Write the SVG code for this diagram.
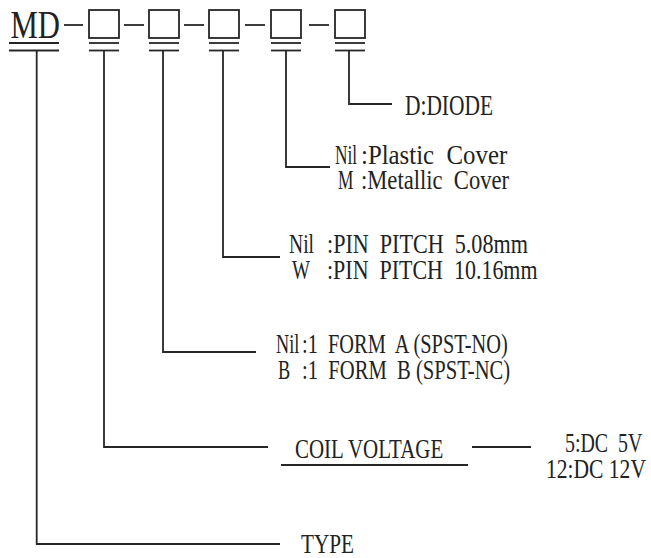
<svg xmlns="http://www.w3.org/2000/svg" width="651" height="558" viewBox="0 0 651 558">
<style>
.ln{stroke:#262626;stroke-width:1.8;fill:none}
</style>
<rect width="651" height="558" fill="#fff"/>
<g id="code">
  <g id="md">
    <text font-family="'Liberation Serif', serif" font-size="40" fill="#222" transform="translate(10.5,37.5) scale(0.768,1)">MD</text>
    <line class="ln" x1="9" y1="43" x2="59" y2="43"/>
    <line class="ln" x1="9" y1="50.5" x2="59" y2="50.5"/>
  </g>
  <g id="box1">
    <rect class="ln" x="89" y="10" width="30" height="28"/>
    <line class="ln" x1="89" y1="43" x2="119" y2="43"/>
    <line class="ln" x1="89" y1="50.5" x2="119" y2="50.5"/>
  </g>
  <g id="box2">
    <rect class="ln" x="149" y="10" width="30" height="28"/>
    <line class="ln" x1="149" y1="43" x2="179" y2="43"/>
    <line class="ln" x1="149" y1="50.5" x2="179" y2="50.5"/>
  </g>
  <g id="box3">
    <rect class="ln" x="209" y="10" width="30" height="28"/>
    <line class="ln" x1="209" y1="43" x2="239" y2="43"/>
    <line class="ln" x1="209" y1="50.5" x2="239" y2="50.5"/>
  </g>
  <g id="box4">
    <rect class="ln" x="271" y="10" width="30" height="28"/>
    <line class="ln" x1="271" y1="43" x2="301" y2="43"/>
    <line class="ln" x1="271" y1="50.5" x2="301" y2="50.5"/>
  </g>
  <g id="box5">
    <rect class="ln" x="335" y="10" width="30" height="28"/>
    <line class="ln" x1="335" y1="43" x2="365" y2="43"/>
    <line class="ln" x1="335" y1="50.5" x2="365" y2="50.5"/>
  </g>
  <g id="dashes">
    <line class="ln" x1="64" y1="25" x2="83" y2="25"/>
    <line class="ln" x1="124" y1="25" x2="144" y2="25"/>
    <line class="ln" x1="184" y1="25" x2="204" y2="25"/>
    <line class="ln" x1="245" y1="25" x2="265" y2="25"/>
    <line class="ln" x1="309" y1="25" x2="329" y2="25"/>
  </g>
</g>
<g id="connectors">
  <polyline class="ln" points="36.7,50.5 36.7,544 280,544"/>
  <polyline class="ln" points="104,50.5 104,447 268,447"/>
  <polyline class="ln" points="163,50.5 163,352 256,352"/>
  <polyline class="ln" points="223,50.5 223,257 280,257"/>
  <polyline class="ln" points="286,50.5 286,167 330,167"/>
  <polyline class="ln" points="349,50.5 349,104 392,104"/>
  <line class="ln" x1="472" y1="447" x2="531" y2="447"/>
  <line class="ln" x1="281" y1="465" x2="468" y2="465"/>
</g>
<g id="diode">
  <text font-family="'Liberation Serif', serif" font-size="30" fill="#222" transform="translate(405,115) scale(0.714,1)">D:DIODE</text>
</g>
<g id="cover">
  <text font-family="'Liberation Serif', serif" font-size="28" fill="#222" transform="translate(335,164) scale(0.62,1)">Nil</text>
  <text font-family="'Liberation Serif', serif" font-size="28" fill="#222" transform="translate(361,164) scale(0.887,1)" xml:space="preserve">:Plastic  Cover</text>
  <text font-family="'Liberation Serif', serif" font-size="28" fill="#222" transform="translate(338,189) scale(0.62,1)">M</text>
  <text font-family="'Liberation Serif', serif" font-size="28" fill="#222" transform="translate(361,189) scale(0.807,1)" xml:space="preserve">:Metallic  Cover</text>
</g>
<g id="pitch">
  <text font-family="'Liberation Serif', serif" font-size="28" fill="#222" transform="translate(289,253) scale(0.7,1)">Nil</text>
  <text font-family="'Liberation Serif', serif" font-size="28" fill="#222" transform="translate(327,253) scale(0.79,1)" xml:space="preserve">:PIN  PITCH  5.08mm</text>
  <text font-family="'Liberation Serif', serif" font-size="28" fill="#222" transform="translate(292,279) scale(0.68,1)">W</text>
  <text font-family="'Liberation Serif', serif" font-size="28" fill="#222" transform="translate(327,279) scale(0.785,1)" xml:space="preserve">:PIN  PITCH  10.16mm</text>
</g>
<g id="form">
  <text font-family="'Liberation Serif', serif" font-size="28" fill="#222" transform="translate(276,353) scale(0.65,1)">Nil</text>
  <text font-family="'Liberation Serif', serif" font-size="28" fill="#222" transform="translate(302,353) scale(0.728,1)" xml:space="preserve">:1  FORM  A (SPST-NO)</text>
  <text font-family="'Liberation Serif', serif" font-size="28" fill="#222" transform="translate(278,379) scale(0.65,1)">B</text>
  <text font-family="'Liberation Serif', serif" font-size="28" fill="#222" transform="translate(302,379) scale(0.736,1)" xml:space="preserve">:1  FORM  B (SPST-NC)</text>
</g>
<g id="coil">
  <text font-family="'Liberation Serif', serif" font-size="28" fill="#222" transform="translate(295,458) scale(0.748,1)">COIL VOLTAGE</text>
  <text font-family="'Liberation Serif', serif" font-size="28" fill="#222" transform="translate(565,452) scale(0.71,1)" xml:space="preserve">5:DC  5V</text>
  <text font-family="'Liberation Serif', serif" font-size="28" fill="#222" transform="translate(546,478) scale(0.77,1)">12:DC 12V</text>
</g>
<g id="type">
  <text font-family="'Liberation Serif', serif" font-size="28" fill="#222" transform="translate(301,553) scale(0.757,1)">TYPE</text>
</g>
</svg>
